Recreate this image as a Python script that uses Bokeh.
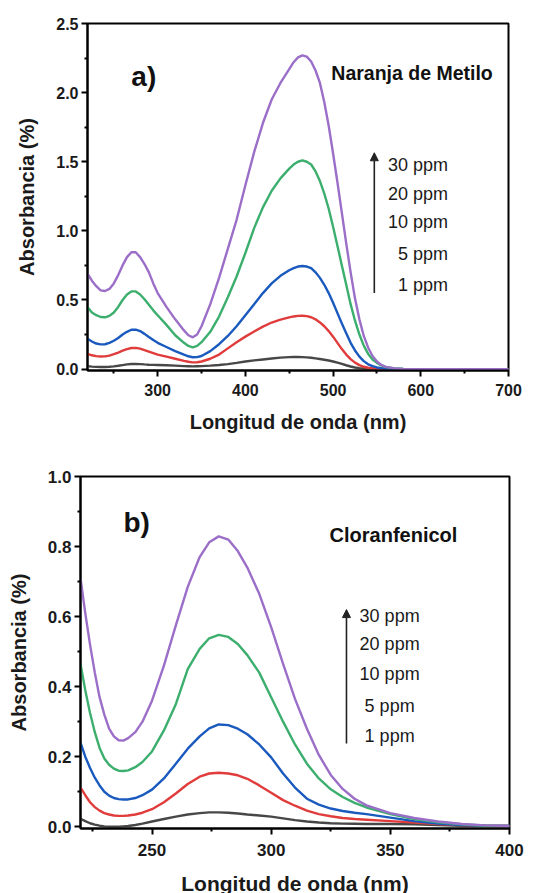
from bokeh.plotting import figure
from bokeh.models import Range1d, FixedTicker, Label, Arrow, NormalHead, NumeralTickFormatter
from bokeh.embed import file_html
from bokeh.resources import INLINE

# ---------------- data: a) Naranja de Metilo ----------------
wl_mo = [220, 225, 230, 235, 240, 245, 250, 255, 260, 265, 270, 275, 280, 285, 290, 295, 300,
         310, 320, 330, 335, 340, 345, 350,
         360, 370, 380, 390, 400, 410, 420, 430, 440, 450,
         455, 460, 465, 470, 475, 480, 485, 490, 495, 500,
         505, 510, 515, 520, 525, 530, 535, 540, 545, 550,
         555, 560, 570, 580, 600, 650, 700]
mo_30 = [0.69, 0.64, 0.60, 0.57, 0.565, 0.58, 0.62, 0.68, 0.75, 0.81, 0.845, 0.845, 0.81, 0.76, 0.70, 0.62, 0.55,
         0.45, 0.36, 0.28, 0.245, 0.23, 0.25, 0.31,
         0.47, 0.66, 0.87, 1.08, 1.33, 1.57, 1.78, 1.95, 2.07, 2.17,
         2.22, 2.255, 2.27, 2.26, 2.225, 2.16, 2.07, 1.93, 1.76, 1.56,
         1.35, 1.13, 0.91, 0.70, 0.51, 0.36, 0.24, 0.155, 0.095, 0.055,
         0.03, 0.016, 0.005, 0.002, 0.0, 0.0, 0.0]
mo_20 = [0.45, 0.41, 0.39, 0.377, 0.375, 0.385, 0.41, 0.45, 0.50, 0.54, 0.562, 0.562, 0.54, 0.505, 0.465, 0.425, 0.39,
         0.32, 0.245, 0.19, 0.168, 0.158, 0.168, 0.195,
         0.27, 0.38, 0.52, 0.67, 0.84, 1.02, 1.17, 1.29, 1.38, 1.45,
         1.48, 1.50, 1.51, 1.50, 1.48, 1.43, 1.36, 1.27, 1.16, 1.03,
         0.89, 0.75, 0.61, 0.47, 0.35, 0.25, 0.17, 0.11, 0.07, 0.045,
         0.027, 0.015, 0.005, 0.002, 0.0, 0.0, 0.0]
mo_10 = [0.22, 0.20, 0.185, 0.179, 0.18, 0.19, 0.205, 0.225, 0.25, 0.27, 0.285, 0.286, 0.275, 0.255, 0.232, 0.21, 0.19,
         0.16, 0.13, 0.105, 0.093, 0.086, 0.087, 0.095,
         0.13, 0.18, 0.24, 0.31, 0.39, 0.47, 0.55, 0.62, 0.675, 0.715,
         0.73, 0.742, 0.746, 0.742, 0.73, 0.70, 0.66, 0.61, 0.55, 0.48,
         0.405, 0.33, 0.26, 0.19, 0.135, 0.09, 0.058, 0.035, 0.021, 0.012,
         0.007, 0.004, 0.002, 0.001, 0.0, 0.0, 0.0]
mo_5 = [0.11, 0.10, 0.094, 0.091, 0.092, 0.098, 0.108, 0.12, 0.133, 0.145, 0.153, 0.154, 0.148, 0.138, 0.127, 0.116, 0.105,
        0.09, 0.075, 0.06, 0.053, 0.049, 0.05, 0.055,
        0.075, 0.105, 0.15, 0.195, 0.235, 0.272, 0.307, 0.337, 0.358, 0.374,
        0.381, 0.385, 0.386, 0.383, 0.375, 0.36, 0.338, 0.31, 0.275, 0.235,
        0.19, 0.145, 0.105, 0.072, 0.047, 0.029, 0.017, 0.01, 0.006, 0.004,
        0.003, 0.002, 0.001, 0.0, 0.0, 0.0, 0.0]
mo_1 = [0.022, 0.018, 0.016, 0.015, 0.015, 0.017, 0.02, 0.024, 0.029, 0.034, 0.037, 0.037, 0.036, 0.034, 0.032, 0.031, 0.03,
        0.028, 0.025, 0.022, 0.021, 0.02, 0.021, 0.022,
        0.025, 0.03, 0.036, 0.045, 0.055, 0.063, 0.07, 0.077, 0.083, 0.087,
        0.088, 0.088, 0.087, 0.085, 0.082, 0.078, 0.073, 0.068, 0.062, 0.055,
        0.047, 0.038, 0.028, 0.019, 0.012, 0.007, 0.004, 0.002, 0.001, 0.0,
        0.0, 0.0, 0.0, 0.0, 0.0, 0.0, 0.0]

# ---------------- data: b) Cloranfenicol ----------------
wl_cl = [220, 222, 224, 226, 228, 230, 232, 234, 236, 238,
         240, 243, 246, 250, 255, 260, 265,
         270, 274, 278, 282, 286, 290, 295,
         300, 305, 310, 315, 320, 325, 330, 335,
         340, 350, 360, 370, 380, 390, 400]
cl_30 = [0.71, 0.61, 0.52, 0.44, 0.37, 0.32, 0.28, 0.258, 0.247, 0.246,
         0.253, 0.27, 0.30, 0.36, 0.46, 0.575, 0.685,
         0.77, 0.812, 0.829, 0.82, 0.787, 0.74, 0.665,
         0.57, 0.465, 0.365, 0.28, 0.205, 0.148, 0.108, 0.08,
         0.061, 0.039, 0.025, 0.015, 0.008, 0.004, 0.002]
cl_20 = [0.465, 0.39, 0.325, 0.27, 0.225, 0.195, 0.177, 0.166, 0.16, 0.159,
         0.161, 0.17, 0.185, 0.215, 0.275, 0.35, 0.45,
         0.508, 0.538, 0.548, 0.542, 0.522, 0.49, 0.44,
         0.37, 0.30, 0.235, 0.18, 0.138, 0.107, 0.085, 0.068,
         0.055, 0.036, 0.022, 0.013, 0.007, 0.003, 0.002]
cl_10 = [0.24, 0.20, 0.168, 0.14, 0.118, 0.10, 0.089, 0.082, 0.079, 0.078,
         0.078, 0.082, 0.09, 0.106, 0.138, 0.18, 0.223,
         0.258, 0.281, 0.292, 0.29, 0.28, 0.264, 0.235,
         0.198, 0.152, 0.112, 0.08, 0.063, 0.052, 0.045, 0.04,
         0.036, 0.026, 0.016, 0.009, 0.005, 0.003, 0.002]
cl_5 = [0.112, 0.09, 0.07, 0.056, 0.046, 0.039, 0.035, 0.032, 0.031, 0.031,
        0.032, 0.035, 0.04, 0.05, 0.07, 0.095, 0.122,
        0.143, 0.152, 0.154, 0.152, 0.147, 0.137, 0.118,
        0.097, 0.076, 0.06, 0.046, 0.036, 0.03, 0.025, 0.022,
        0.02, 0.016, 0.012, 0.008, 0.005, 0.003, 0.002]
cl_1 = [0.023, 0.016, 0.01, 0.006, 0.003, 0.001, 0.0, 0.0, 0.0, 0.001,
        0.002, 0.005, 0.009, 0.015, 0.022, 0.029, 0.035,
        0.039, 0.041, 0.041, 0.04, 0.038, 0.035, 0.032,
        0.029, 0.024, 0.019, 0.015, 0.012, 0.01, 0.009, 0.0085,
        0.008, 0.008, 0.007, 0.005, 0.003, 0.002, 0.002]

conc_labels = ["30 ppm", "20 ppm", "10 ppm", "5 ppm", "1 ppm"]
colors = ["#9b6ec8", "#3cae6e", "#1a5abe", "#e03c3c", "#474747"]

FONT = "Liberation Sans"


def style(p, xticks, xminor, yticks, yminor, tick_size):
    p.xgrid.visible = False
    p.ygrid.visible = False
    p.outline_line_color = "black"
    p.outline_line_width = 2
    p.background_fill_color = "white"
    p.border_fill_color = "white"
    p.xaxis.ticker = FixedTicker(ticks=xticks, minor_ticks=xminor)
    p.yaxis.ticker = FixedTicker(ticks=yticks, minor_ticks=yminor)
    p.yaxis.formatter = NumeralTickFormatter(format="0.0")
    for ax in (p.xaxis[0], p.yaxis[0]):
        ax.axis_line_width = 2
        ax.axis_line_color = "black"
        ax.major_tick_line_width = 2
        ax.minor_tick_line_width = 2
        ax.major_tick_in = 0
        ax.major_tick_out = 6
        ax.minor_tick_in = 0
        ax.minor_tick_out = 3
        ax.major_label_text_font = FONT
        ax.major_label_text_font_style = "bold"
        ax.major_label_text_font_size = tick_size
        ax.major_label_text_color = "#1a1a1a"
        ax.axis_label_text_font = FONT
        ax.axis_label_text_font_style = "bold"
        ax.axis_label_text_font_size = "20px"
        ax.axis_label_text_color = "#1a1a1a"


def add_texts(p, letter, lx, ly, title, tx, ty, title_size, ax_x, ay0, ay1, lab_x, lab_ys, lab_align):
    p.add_layout(Label(x=lx, y=ly, text=letter, text_font=FONT, text_font_style="bold",
                       text_font_size="28px", text_align="left", text_baseline="middle",
                       text_color="#111111"))
    p.add_layout(Label(x=tx, y=ty, text=title, text_font=FONT, text_font_style="bold",
                       text_font_size=title_size, text_align="left", text_baseline="middle",
                       text_color="#111111"))
    p.add_layout(Arrow(end=NormalHead(size=8, fill_color="#222222", line_color="#222222"),
                       x_start=ax_x, y_start=ay0, x_end=ax_x, y_end=ay1,
                       line_width=1.6, line_color="#222222"))
    for t, yy in zip(conc_labels, lab_ys):
        p.add_layout(Label(x=lab_x, y=yy, text=t, text_font=FONT, text_font_size="18px",
                           text_align=lab_align, text_baseline="middle", text_color="#1a1a1a"))


# ---------------- figure a ----------------
pa = figure(frame_width=421, frame_height=347, min_border_left=87, min_border_right=19,
            min_border_top=23, min_border_bottom=70,
            x_range=Range1d(220, 700), y_range=Range1d(-0.01, 2.5),
            output_backend="svg", toolbar_location=None,
            x_axis_label="Longitud de onda (nm)", y_axis_label="Absorbancia (%)")
style(pa, [300, 400, 500, 600, 700], [250, 350, 450, 550, 650],
      [0, 0.5, 1.0, 1.5, 2.0, 2.5], [0.25, 0.75, 1.25, 1.75, 2.25], "16px")
pa.xaxis.major_label_standoff = 7
pa.yaxis.major_label_standoff = 3
pa.xaxis.axis_label_standoff = 12
pa.yaxis.axis_label_standoff = 15
for ys, c in zip([mo_1, mo_5, mo_10, mo_20, mo_30], colors[::-1]):
    pa.line(wl_mo, ys, line_color=c, line_width=2.4)
add_texts(pa, "a)", 270, 2.12, "Naranja de Metilo", 498, 2.14, "19.5px",
          547, 0.55, 1.565, 631, [1.474, 1.27, 1.064, 0.836, 0.607], "right")

# ---------------- figure b ----------------
pb = figure(frame_width=429, frame_height=352, min_border_left=80, min_border_right=18,
            min_border_top=36, min_border_bottom=64,
            x_range=Range1d(220, 400), y_range=Range1d(-0.005, 1.0),
            output_backend="svg", toolbar_location=None,
            x_axis_label="Longitud de onda (nm)", y_axis_label="Absorbancia (%)")
style(pb, [250, 300, 350, 400], [225, 275, 325, 375],
      [0, 0.2, 0.4, 0.6, 0.8, 1.0], [0.1, 0.3, 0.5, 0.7, 0.9], "17px")
pb.xaxis.axis_label_text_font_size = "21px"
pb.xaxis.major_label_standoff = 9
pb.yaxis.major_label_standoff = 3
pb.xaxis.axis_label_standoff = 13
pb.yaxis.axis_label_standoff = 15
for ys, c in zip([cl_1, cl_5, cl_10, cl_20, cl_30], colors[::-1]):
    pb.line(wl_cl, ys, line_color=c, line_width=2.4)
add_texts(pb, "b)", 238, 0.87, "Cloranfenicol", 324.5, 0.833, "20px",
          331.6, 0.238, 0.62, 349.7, [0.603, 0.523, 0.437, 0.346, 0.258], "center")

# two separate roots so that Bokeh does not align the two frames
open("out.html", "w").write(file_html([pa, pb], INLINE))
